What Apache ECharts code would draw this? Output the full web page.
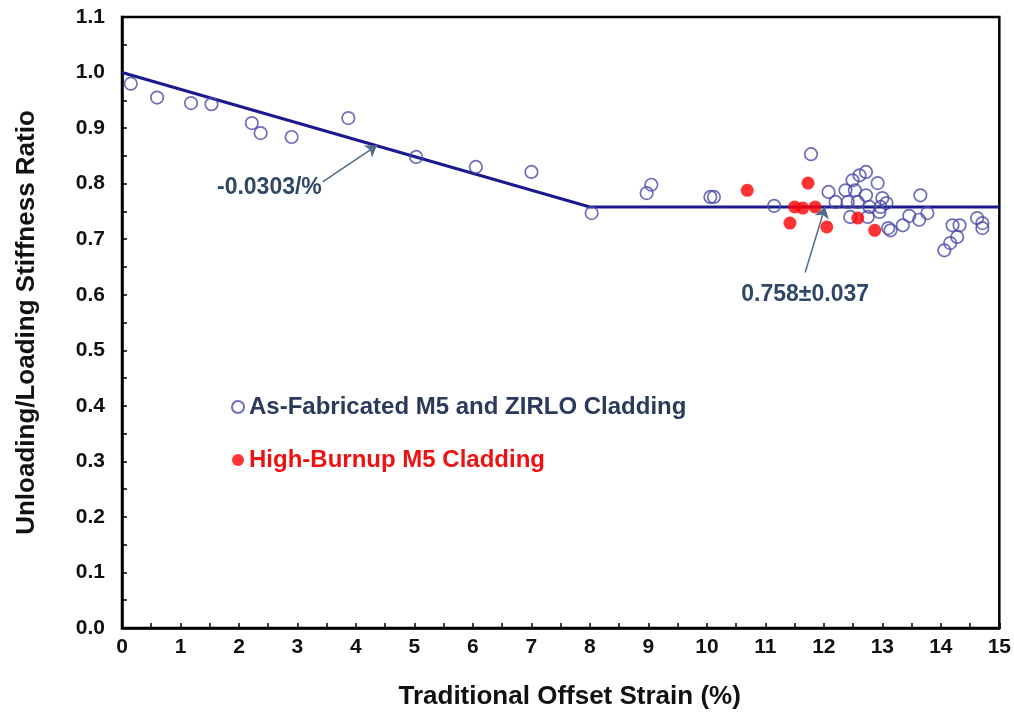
<!DOCTYPE html>
<html>
<head>
<meta charset="utf-8">
<script src="https://cdn.jsdelivr.net/npm/echarts@6/dist/echarts.min.js"></script>
<style>html,body{margin:0;padding:0;background:#fff}#c{width:1014px;height:716px}</style>
</head>
<body>
<div id="c"></div>
<script>
// ---- data ----
var asFabX = [0.15,0.6,1.18,1.53,2.22,2.37,2.9,3.87,5.03,6.05,7.0,8.03,8.97,9.05,10.06,10.12,11.15,11.78,
  12.08,12.2,12.37,12.41,12.49,12.61,12.72,12.53,12.58,12.72,12.92,13.0,12.97,12.78,12.45,12.75,12.95,13.07,
  13.1,13.14,13.35,13.46,13.63,13.65,13.77,14.06,14.16,14.28,14.2,14.32,14.62,14.71,14.71];
var asFabY = [0.98,0.955,0.945,0.943,0.909,0.891,0.884,0.918,0.848,0.83,0.821,0.747,0.783,0.798,0.776,0.776,0.76,0.853,
  0.785,0.767,0.788,0.767,0.806,0.815,0.821,0.788,0.767,0.779,0.801,0.774,0.758,0.758,0.74,0.74,0.749,0.765,
  0.72,0.716,0.725,0.742,0.735,0.779,0.747,0.68,0.693,0.704,0.725,0.725,0.738,0.729,0.72];
var hbX = [10.69,11.42,11.5,11.64,11.73,11.85,12.05,12.58,12.87];
var hbY = [0.788,0.729,0.758,0.756,0.801,0.758,0.722,0.738,0.716];
var fitX = [0,8,15];
var fitY = [1.0,0.758,0.758];
var slopeLabel = '-0.0303/%';
var meanLabel = '0.758\u00b10.037';
var slopeArrow = [[3.43,0.803],[4.36,0.869]];
var meanArrow = [[11.68,0.64],[12.02,0.758]];
var slopeTextPos = [2.52,0.792];
var meanTextPos = [11.68,0.60];
var xTicks = [0,15,1];
var yTicks = [0,1.1,0.1];
var seriesNames = ['As-Fabricated M5 and ZIRLO Cladding','High-Burnup M5 Cladding'];

function zip(a,b){return a.map(function(v,i){return [v,b[i]];});}

var FONT = 'Liberation Sans, Arial, sans-serif';
var chart = echarts.init(document.getElementById('c'), null, {renderer:'canvas'});
chart.setOption({
  animation:false,
  backgroundColor:'#fff',
  grid:{left:122,right:12,top:17,bottom:88,show:true,borderColor:'#000',borderWidth:2.5,backgroundColor:'transparent'},
  xAxis:{type:'value',min:xTicks[0],max:xTicks[1],interval:xTicks[2],
    name:'Traditional Offset Strain (%)',nameLocation:'middle',nameGap:56,
    nameTextStyle:{fontFamily:FONT,fontWeight:'bold',fontSize:26,color:'#111',padding:[0,0,0,18]},
    axisLine:{lineStyle:{color:'#000',width:2.5}},
    axisTick:{inside:true,length:5,lineStyle:{color:'#000',width:1.5}},
    minorTick:{show:true,splitNumber:2,length:5,lineStyle:{color:'#000',width:1.5}},
    splitLine:{show:false},
    axisLabel:{fontFamily:FONT,fontWeight:'bold',fontSize:21,color:'#111',margin:9}},
  yAxis:{type:'value',min:yTicks[0],max:yTicks[1],interval:yTicks[2],
    name:'Unloading/Loading Stiffness Ratio',nameLocation:'middle',nameGap:82,
    nameTextStyle:{fontFamily:FONT,fontWeight:'bold',fontSize:26,color:'#111'},
    axisLine:{lineStyle:{color:'#000',width:2.5}},
    axisTick:{inside:true,length:5,lineStyle:{color:'#000',width:1.5}},
    minorTick:{show:true,splitNumber:2,length:5,lineStyle:{color:'#000',width:1.5}},
    splitLine:{show:false},
    axisLabel:{fontFamily:FONT,fontWeight:'bold',fontSize:21,color:'#111',margin:17,
      formatter:function(v){return v.toFixed(1);}}},
  legend:{orient:'vertical',left:226,top:390,itemWidth:12,itemHeight:12,itemGap:29,
    data:[{name:seriesNames[0],icon:'circle',textStyle:{color:'#2b3a5a'}},
          {name:seriesNames[1],icon:'circle',textStyle:{color:'#ee1111'}}],
    textStyle:{fontFamily:FONT,fontWeight:'bold',fontSize:24}},
  series:[
    {type:'line',name:'fit',data:zip(fitX,fitY),showSymbol:false,symbol:'none',
      lineStyle:{color:'#1a1a8e',width:3},z:1,
      markLine:{silent:true,symbol:['none','arrow'],symbolSize:11,
        lineStyle:{color:'#4f6c88',width:1.5,type:'solid'},label:{show:false},
        data:[[{coord:slopeArrow[0]},{coord:slopeArrow[1]}],[{coord:meanArrow[0]},{coord:meanArrow[1]}]]},
      markPoint:{silent:true,symbol:'circle',symbolSize:0,
        label:{show:true,position:'inside',fontFamily:FONT,fontWeight:'bold',fontSize:23,color:'#2f4866'},
        data:[{coord:slopeTextPos,value:slopeLabel,label:{formatter:slopeLabel}},
              {coord:meanTextPos,value:meanLabel,label:{formatter:meanLabel}}]}},
    {type:'scatter',name:seriesNames[0],data:zip(asFabX,asFabY),symbol:'circle',symbolSize:12.5,
      itemStyle:{color:'rgba(255,255,255,0)',borderColor:'#4a4aa6',borderWidth:1.7},z:3},
    {type:'scatter',name:seriesNames[1],data:zip(hbX,hbY),symbol:'circle',symbolSize:13,
      itemStyle:{color:'#ff0000'},z:4}
  ]
});
</script>
</body>
</html>
